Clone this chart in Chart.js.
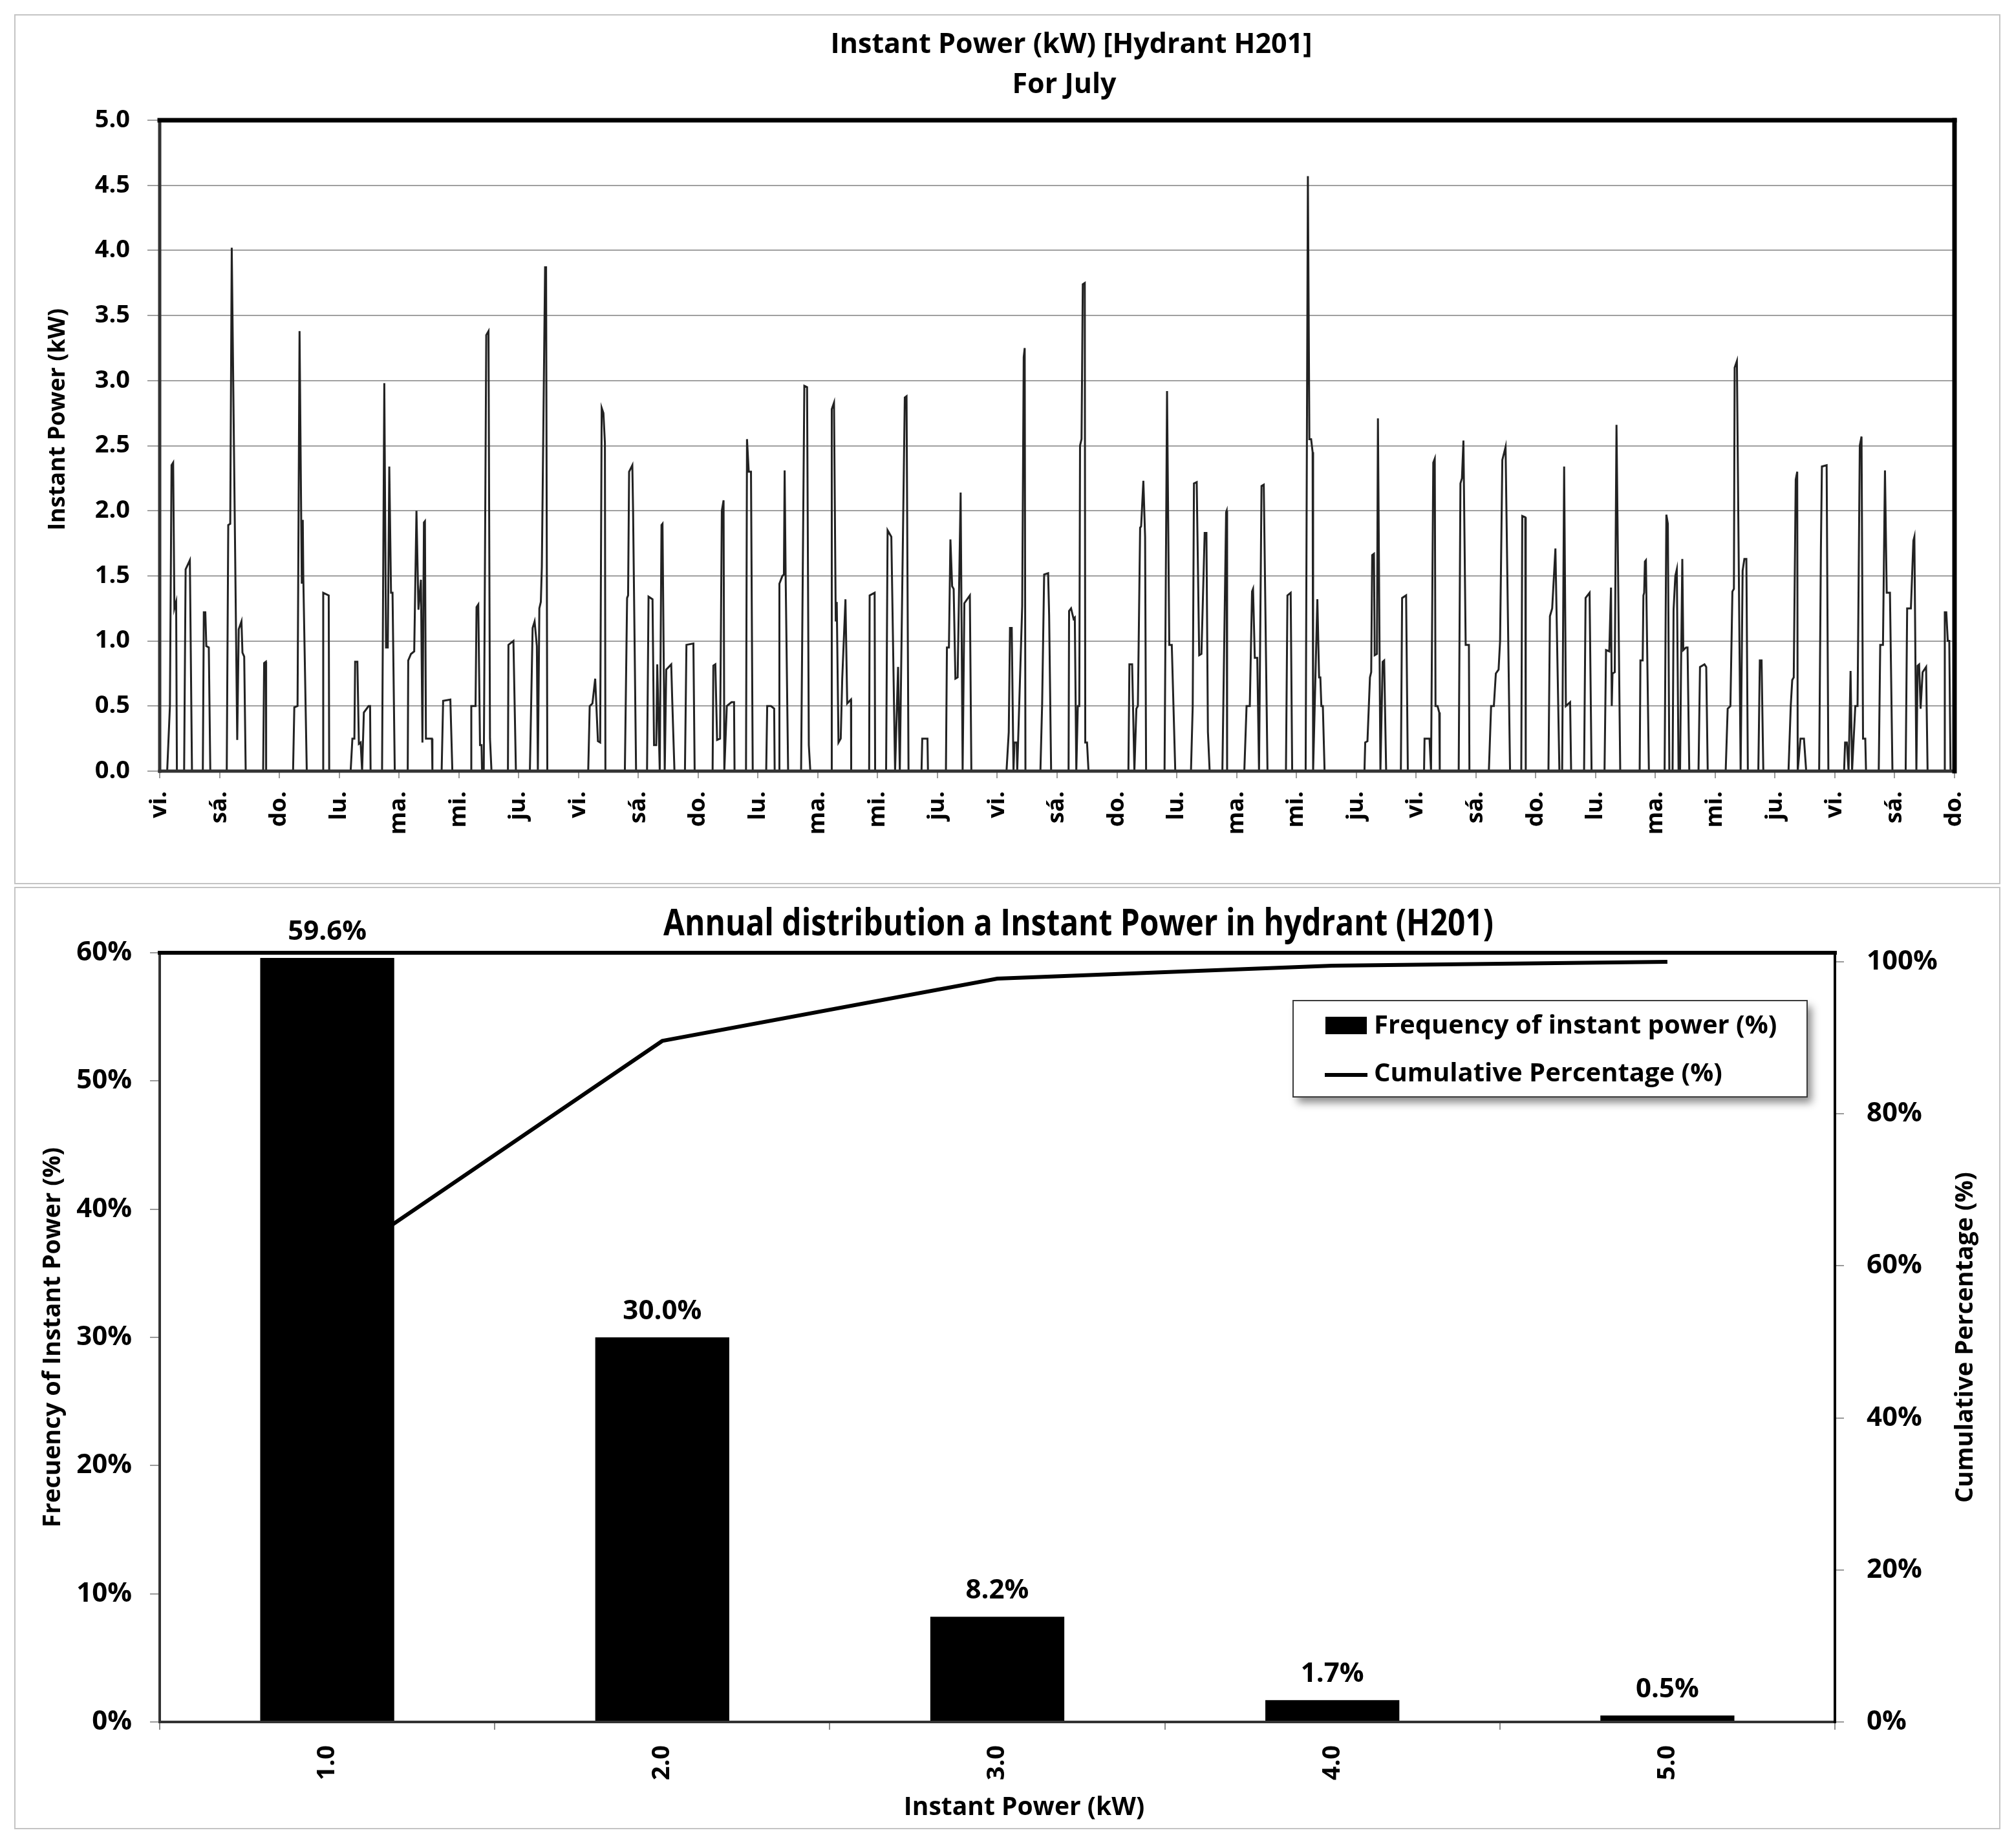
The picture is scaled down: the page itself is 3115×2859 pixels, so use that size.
<!DOCTYPE html>
<html>
<head>
<meta charset="utf-8">
<title>Instant Power H201</title>
<script src="https://cdn.jsdelivr.net/npm/chart.js@4.4.0/dist/chart.umd.min.js"></script>
<style>
  html, body { margin: 0; padding: 0; background: #fff; }
  body { width: 3115px; height: 2859px; position: relative; overflow: hidden; }
  .panel { position: absolute; left: 22px; width: 3072px; border: 2px solid #c4c4c4; box-sizing: border-box; background: #fff; }
  #topPanel { top: 22px; height: 1346px; }
  #bottomPanel { top: 1372px; height: 1458px; }
  canvas { display: block; }
</style>
</head>
<body>
<div class="panel" id="topPanel"><canvas id="powerChart"></canvas></div>
<div class="panel" id="bottomPanel"><canvas id="distChart"></canvas></div>
<script>
// --- July series: hour of month (0 = Fri 1st 00:00) and instant power in kW
const hours = [
  0, 3.0, 4.1, 4.75, 5.4, 5.9, 6.6, 6.9,
  9.8, 10.4, 12.1, 12.95,
  17.3, 17.7, 18.3, 18.7, 19.7, 20.3,
  26.9, 27.5, 28.3, 28.9, 31.1, 31.7, 32.8, 33.2, 33.9, 34.5,
  41.5, 41.9, 42.6, 42.7,
  53.5, 54.0, 55.3, 56.1, 57.0, 57.4, 57.6, 59.0,
  65.5, 65.6, 67.8, 68.0,
  76.6, 77.3, 78.1, 78.4, 79.3, 79.9, 80.6, 81.2, 81.9, 83.8, 84.4, 84.6,
  89.2, 90.1, 90.8, 91.5, 92.1, 92.8, 93.4, 94.3,
  99.5, 99.7, 100.8, 102.1, 103.0, 103.8, 104.8, 105.4, 106.0, 106.4, 106.8, 109.2, 109.4,
  113.1, 113.7, 116.6, 117.4,
  124.8, 125.0, 126.7, 127.1, 127.8, 128.5, 129.1, 129.3, 130.0, 131.0, 131.9, 132.5, 133.1,
  139.7, 139.9, 141.9, 142.9,
  148.5, 149.6, 150.4, 151.3, 151.7, 152.3, 152.9, 153.3, 154.6, 155.0, 155.5,
  171.9, 172.5, 173.6, 174.7, 175.8, 176.7, 177.3, 178.0, 178.6, 178.8,
  186.6, 187.5, 187.9, 188.3, 189.6, 189.9, 191.1,
  195.5, 196.1, 197.7, 198.3, 199.2, 199.6, 200.6, 201.3, 201.7, 202.6, 203.2, 205.2, 205.6, 206.5,
  210.7, 211.3, 214.1, 214.6,
  221.8, 222.1, 222.9, 223.6, 224.8, 225.5, 226.2, 226.5, 227.5, 229.4, 230.4, 230.6,
  235.2, 235.6, 236.3, 237.2, 237.9,
  243.3, 243.7, 245.2, 246.5, 246.7,
  248.5, 248.6, 249.8, 250.4, 250.7, 251.1, 252.1,
  257.3, 258.6, 259.7, 260.4, 261.0,
  269.5, 269.6, 270.5, 271.2, 271.6, 272.3, 273.2, 273.8, 275.1, 275.8, 277.3, 277.4,
  284.6, 284.8, 286.8, 287.0,
  291.4, 292.0, 293.5, 295.0, 296.2, 296.9, 298.9, 299.6, 300.4,
  305.6, 305.9, 308.0, 308.2,
  315.4, 315.8, 316.6, 317.2, 317.9, 318.5, 319.2, 320.1, 321.3, 322.1, 322.8, 325.0, 325.6,
  339.7, 340.6, 341.1, 341.8, 342.5, 342.9, 343.8, 344.0, 346.0, 346.6, 347.0, 347.3,
  353.3, 354.0, 354.8, 356.4, 356.8, 357.6,
  364.6, 364.8, 365.6, 366.6, 367.1, 367.7, 368.3, 368.9, 369.2, 369.8, 370.3, 371.1, 371.3, 372.0, 372.6,
  388.6, 389.0, 390.1, 391.0, 391.8, 392.4, 393.3, 393.7, 394.6, 395.3, 395.7,
  403.1, 404.1, 405.0, 406.0, 407.4,
  413.7, 414.4, 414.9, 416.0, 417.0, 417.9, 419.2, 419.9, 420.5, 421.2,
  426.3, 427.8, 428.0, 428.2,
  435.1, 436.0, 437.3, 438.2, 438.6, 439.3, 440.3, 441.0, 442.0, 442.9, 444.4,
  451.8, 452.4, 453.7, 454.3,
  459.7, 460.6, 461.2, 461.9, 462.5, 462.7, 464.4, 465.1, 465.6, 466.0, 466.6, 467.3,
  483.3, 483.6, 484.5, 485.5, 486.0, 486.4, 487.1, 487.4, 488.3, 488.7, 489.7, 490.6, 491.2, 492.0,
  497.9, 498.4, 500.0, 500.7,
  507.2, 507.4, 509.4, 510.0, 510.9, 511.5, 511.8, 512.6, 513.3, 513.5,
  521.1, 521.8, 522.4, 523.0, 523.9, 525.2, 525.4,
  533.2, 534.1, 535.2, 536.0, 537.1, 537.7, 538.6, 539.9, 541.7,
  546.2, 546.6, 547.8, 548.0,
  557.1, 557.7, 558.6, 559.9, 561.5, 562.6, 563.4, 564.1, 565.8, 566.2,
  571.4, 572.0, 573.6, 574.4,
  579.6, 580.2, 581.5, 582.2, 582.5, 582.8, 583.7, 584.4, 585.9,
  593.7, 594.0, 594.9, 595.2, 595.5, 595.8, 596.2, 597.4,
  603.7, 604.4, 605.0, 605.6,
  606.9, 607.3, 608.0, 608.6, 609.3, 609.9, 610.3, 610.8, 611.2, 612.3, 612.9, 613.6,
  617.3, 617.9, 619.7, 620.4, 621.0,
  628.2, 629.0, 630.1, 630.9, 631.5, 631.8, 632.7, 634.2, 635.0, 635.7, 636.5, 637.1,
  641.3, 641.9, 642.6, 643.3,
  653.4, 654.3, 654.9, 655.5, 656.3, 656.9, 657.1, 658.2, 659.6, 660.5,
  665.7, 666.4, 666.8, 668.7, 669.4,
  675.7, 676.1, 676.8, 677.5, 678.3, 678.9, 680.2, 681.1, 682.0, 682.7, 683.3, 684.2, 684.5,
  689.6, 690.2, 691.3, 692.1, 692.8, 694.1, 695.1,
  700.4, 701.0, 702.5, 703.5, 703.9, 704.7, 705.2, 705.8, 706.4, 707.2, 708.6, 709.2,
  715.9, 716.1, 716.7, 717.3, 717.9, 718.4, 720
];
const powerKW = [
  0, 0, 0.5, 2.35, 2.37, 1.25, 1.3, 0,
  0, 1.55, 1.62, 0,
  0, 1.22, 1.22, 0.96, 0.95, 0,
  0, 1.89, 1.9, 4.02, 0.24, 1.09, 1.15, 0.91, 0.88, 0,
  0, 0.83, 0.84, 0,
  0, 0.49, 0.5, 3.38, 1.44, 1.93, 1.5, 0,
  0, 1.37, 1.35, 0,
  0, 0.25, 0.25, 0.84, 0.84, 0.21, 0.22, 0, 0.45, 0.5, 0.5, 0,
  0, 2.98, 0.95, 0.95, 2.34, 1.37, 1.37, 0,
  0, 0.85, 0.9, 0.92, 2.0, 1.24, 1.47, 0.22, 1.91, 1.92, 0.25, 0.25, 0,
  0, 0.54, 0.55, 0,
  0, 0.5, 0.5, 1.26, 1.28, 0.2, 0.2, 0, 0, 3.35, 3.38, 0.25, 0,
  0, 0.97, 1.0, 0,
  0, 1.1, 1.15, 0.96, 0, 1.25, 1.3, 1.57, 3.87, 3.87, 0,
  0, 0.5, 0.52, 0.71, 0.23, 0.22, 2.79, 2.75, 2.52, 0,
  0, 1.33, 1.35, 2.3, 2.35, 2.0, 0,
  0, 1.34, 1.32, 0.2, 0.2, 0.82, 0, 1.89, 1.9, 0, 0.78, 0.82, 0.55, 0,
  0, 0.97, 0.98, 0,
  0, 0.81, 0.82, 0.24, 0.25, 2.0, 2.08, 0, 0.5, 0.53, 0.53, 0,
  0, 2.55, 2.3, 2.3, 0,
  0, 0.5, 0.5, 0.48, 0,
  0, 1.44, 1.5, 1.51, 2.31, 1.5, 0,
  0, 2.96, 2.95, 0.2, 0,
  0, 2.78, 2.83, 1.15, 1.3, 0.22, 0.25, 0.71, 1.32, 0.52, 0.55, 0,
  0, 1.35, 1.37, 0,
  0, 1.85, 1.8, 0, 0.8, 0, 2.87, 2.88, 0,
  0, 0.25, 0.25, 0,
  0, 0.95, 0.95, 1.78, 1.42, 1.4, 0.71, 0.72, 2.14, 0, 1.29, 1.35, 0,
  0, 0.3, 1.1, 1.1, 0, 0.22, 0.22, 0, 1.27, 3.18, 3.25, 0,
  0, 0.52, 1.51, 1.52, 1.2, 0,
  0, 1.23, 1.25, 1.17, 1.18, 0, 0.5, 0.5, 2.5, 2.55, 3.74, 3.75, 0.22, 0.22, 0,
  0, 0.82, 0.82, 0, 0.48, 0.5, 1.87, 1.88, 2.23, 1.8, 0,
  0, 2.92, 0.97, 0.97, 0,
  0, 0.5, 2.21, 2.22, 0.89, 0.9, 1.83, 1.83, 0.3, 0,
  0, 1.99, 2.0, 0,
  0, 0.5, 0.5, 1.38, 1.4, 0.87, 0.87, 0, 2.19, 2.2, 0,
  0, 1.35, 1.37, 0,
  0, 4.57, 2.55, 2.55, 2.45, 0, 1.32, 0.72, 0.72, 0.5, 0.5, 0,
  0, 0.22, 0.23, 0.72, 0.76, 1.66, 1.67, 0.89, 0.9, 2.71, 0, 0.84, 0.85, 0,
  0, 1.33, 1.35, 0,
  0, 0.25, 0.25, 0, 2.37, 2.4, 0.5, 0.5, 0.45, 0,
  0, 2.21, 2.25, 2.54, 0.97, 0.97, 0,
  0, 0.5, 0.5, 0.75, 0.78, 1.0, 2.39, 2.49, 0,
  0, 1.96, 1.95, 0,
  0, 1.19, 1.25, 1.71, 0, 0, 2.34, 0.5, 0.53, 0,
  0, 1.33, 1.37, 0,
  0, 0.93, 0.92, 1.41, 0.5, 0.75, 0.76, 2.66, 0,
  0, 0.85, 0.85, 1.35, 1.37, 1.61, 1.62, 0,
  0, 1.97, 1.9, 0,
  0, 1.24, 1.5, 1.55, 0, 0, 0.8, 1.63, 0.93, 0.95, 0.95, 0,
  0, 0.8, 0.82, 0.8, 0,
  0, 0.48, 0.5, 1.38, 1.4, 3.1, 3.15, 0, 1.54, 1.63, 1.63, 0,
  0, 0.85, 0.85, 0,
  0, 0.5, 0.7, 0.72, 2.24, 2.3, 0, 0.25, 0.25, 0,
  0, 1.7, 2.34, 2.35, 0,
  0, 0.22, 0.22, 0, 0.77, 0, 0.5, 0.5, 2.5, 2.57, 0.25, 0.25, 0,
  0, 0.97, 0.97, 2.31, 1.37, 1.37, 0,
  0, 1.25, 1.25, 1.77, 1.8, 0, 0.81, 0.82, 0.48, 0.76, 0.8, 0,
  0, 1.22, 1.22, 1.0, 1.0, 0, 0
];
const dayLabels = ['vi.', 'sá.', 'do.', 'lu.', 'ma.', 'mi.', 'ju.',
  'vi.', 'sá.', 'do.', 'lu.', 'ma.', 'mi.', 'ju.',
  'vi.', 'sá.', 'do.', 'lu.', 'ma.', 'mi.', 'ju.',
  'vi.', 'sá.', 'do.', 'lu.', 'ma.', 'mi.', 'ju.',
  'vi.', 'sá.', 'do.'];

// --- annual distribution
const powerBins = ['1.0', '2.0', '3.0', '4.0', '5.0'];
const freqPct = [59.6, 30.0, 8.2, 1.7, 0.5];
const cumPct = [59.6, 89.6, 97.8, 99.5, 100.0];
const cumTicks = [0, 20, 40, 60, 80, 100];

const FONT = "'Open Sans', 'DejaVu Sans', sans-serif";
Chart.defaults.font.family = FONT;
Chart.defaults.font.weight = 'bold';
Chart.defaults.color = '#000';

// plot frame (thick top/right like the original)
const framePlugin = {
  id: 'frame',
  afterDatasetsDraw(chart, args, o) {
    const { ctx, chartArea: a } = chart;
    const side = (x1, y1, x2, y2, w, c) => {
      ctx.lineWidth = w; ctx.strokeStyle = c;
      ctx.beginPath(); ctx.moveTo(x1, y1); ctx.lineTo(x2, y2); ctx.stroke();
    };
    ctx.save();
    ctx.lineCap = 'square';
    side(a.left, a.bottom, a.right, a.bottom, o.bottom, '#333');
    side(a.left, a.top, a.left, a.bottom, o.left, '#333');
    side(a.right, a.top, a.right, a.bottom, o.right, '#000');
    side(a.left, a.top, a.right, a.top, o.top, '#000');
    ctx.restore();
  }
};

// free text: chart titles and rotated axis titles
const textPlugin = {
  id: 'texts',
  afterDraw(chart, args, o) {
    const ctx = chart.ctx;
    ctx.save();
    ctx.fillStyle = '#000';
    ctx.textAlign = 'center';
    (o.items || []).forEach(t => {
      ctx.save();
      ctx.font = 'bold ' + t.size + 'px ' + FONT;
      ctx.textBaseline = t.baseline || 'middle';
      ctx.translate(t.x, t.y);
      if (t.rotate) ctx.rotate(-Math.PI / 2);
      if (t.squeeze) ctx.scale(t.squeeze, 1);
      ctx.fillText(t.text, 0, 0);
      ctx.restore();
    });
    ctx.restore();
  }
};

const barLabelPlugin = {
  id: 'barLabels',
  afterDatasetsDraw(chart) {
    const ctx = chart.ctx;
    const meta = chart.getDatasetMeta(0);
    ctx.save();
    ctx.font = 'bold 42px ' + FONT;
    ctx.fillStyle = '#000';
    ctx.textAlign = 'center';
    ctx.textBaseline = 'middle';
    meta.data.forEach((bar, i) => ctx.fillText(freqPct[i].toFixed(1) + '%', bar.x, bar.y - 40));
    ctx.restore();
  }
};

const boxLegendPlugin = {
  id: 'boxLegend',
  afterDraw(chart) {
    const { ctx, chartArea: a } = chart;
    const ds = chart.data.datasets;
    const x = a.right - 838, y = a.top + 74, w = 795, h = 149;
    ctx.save();
    ctx.shadowColor = 'rgba(0,0,0,0.45)';
    ctx.shadowBlur = 12; ctx.shadowOffsetX = 7; ctx.shadowOffsetY = 9;
    ctx.fillStyle = '#fff';
    ctx.fillRect(x, y, w, h);
    ctx.shadowColor = 'transparent';
    ctx.strokeStyle = '#3a3a3a'; ctx.lineWidth = 2;
    ctx.strokeRect(x, y, w, h);
    ctx.fillStyle = '#000';
    ctx.fillRect(x + 50, y + 25, 64, 27);
    ctx.strokeStyle = '#000'; ctx.lineWidth = 6;
    ctx.beginPath(); ctx.moveTo(x + 49, y + 115); ctx.lineTo(x + 115, y + 115); ctx.stroke();
    ctx.font = 'bold 40px ' + FONT;
    ctx.textAlign = 'left'; ctx.textBaseline = 'middle';
    ctx.fillText(ds[0].label, x + 125, y + 40);
    ctx.fillText(ds[1].label, x + 125, y + 114);
    ctx.restore();
  }
};

// ---------- top chart: instant power for July
new Chart(document.getElementById('powerChart'), {
  type: 'line',
  data: {
    datasets: [{
      label: 'Instant Power (kW)',
      data: hours.map((h, i) => ({ x: h, y: powerKW[i] })),
      borderColor: '#222',
      borderWidth: 3,
      pointRadius: 0,
      tension: 0,
      fill: false
    }]
  },
  options: {
    responsive: true,
    maintainAspectRatio: false,
    animation: false,
    layout: { padding: { top: 162, right: 69, left: 0, bottom: 0 } },
    plugins: {
      legend: { display: false },
      tooltip: { enabled: false },
      frame: { top: 7, right: 7, left: 5, bottom: 5 },
      texts: {
        items: [
          { text: 'Instant Power (kW) [Hydrant H201]', x: 1633, y: 46, size: 43 },
          { text: 'For July', x: 1622, y: 108, size: 43 },
          { text: 'Instant Power (kW)', x: 66, y: 625, size: 36, rotate: true }
        ]
      }
    },
    scales: {
      x: {
        type: 'linear',
        min: 0,
        max: 720,
        afterFit: s => { s.height = 173; },
        ticks: {
          stepSize: 24,
          autoSkip: false,
          maxRotation: 90,
          minRotation: 90,
          padding: 20,
          font: { size: 36, weight: 'bold' },
          callback: v => dayLabels[Math.round(v / 24)]
        },
        grid: { drawOnChartArea: false, tickLength: 11, color: '#9a9a9a', lineWidth: 2 },
        border: { display: false }
      },
      y: {
        min: 0,
        max: 5,
        afterFit: s => { s.width = 223; },
        ticks: {
          stepSize: 0.5,
          padding: 27,
          font: { size: 38, weight: 'bold' },
          callback: v => v.toFixed(1)
        },
        grid: { color: '#a0a0a0', lineWidth: 2, tickLength: 19 },
        border: { display: false }
      }
    }
  },
  plugins: [framePlugin, textPlugin]
});

// ---------- bottom chart: annual distribution
new Chart(document.getElementById('distChart'), {
  type: 'bar',
  data: {
    labels: powerBins,
    datasets: [
      {
        type: 'bar',
        label: 'Frequency of instant power (%)',
        data: freqPct,
        backgroundColor: '#000',
        barPercentage: 0.4,
        categoryPercentage: 1.0,
        yAxisID: 'yFreq',
        order: 1
      },
      {
        type: 'line',
        label: 'Cumulative Percentage (%)',
        data: cumPct,
        borderColor: '#000',
        borderWidth: 6,
        pointRadius: 0,
        tension: 0,
        fill: false,
        yAxisID: 'yCum',
        order: 2
      }
    ]
  },
  options: {
    responsive: true,
    maintainAspectRatio: false,
    animation: false,
    layout: { padding: { top: 100, right: 0, left: 0, bottom: 0 } },
    plugins: {
      legend: { display: false },
      tooltip: { enabled: false },
      frame: { top: 6, right: 4, left: 4, bottom: 4 },
      texts: {
        items: [
          { text: 'Annual distribution a Instant Power in hydrant (H201)', x: 1644, y: 73, size: 57, squeeze: 0.84, baseline: 'alphabetic' },
          { text: 'Cumulative Percentage (%)', x: 3016, y: 695, size: 38, rotate: true },
          { text: 'Instant Power (kW)', x: 1560, y: 1423, size: 39 }
        ]
      }
    },
    scales: {
      x: {
        type: 'category',
        offset: true,
        afterFit: s => { s.height = 164; },
        ticks: {
          autoSkip: false,
          maxRotation: 90,
          minRotation: 90,
          padding: 24,
          font: { size: 38, weight: 'bold' }
        },
        grid: { offset: true, drawOnChartArea: false, tickLength: 12, color: '#8a8a8a', lineWidth: 2 },
        border: { display: false }
      },
      yFreq: {
        position: 'left',
        min: 0,
        max: 60,
        afterFit: s => { s.width = 223; },
        ticks: {
          stepSize: 10,
          padding: 28,
          font: { size: 42, weight: 'bold' },
          callback: v => v + '%'
        },
        grid: { drawOnChartArea: false, tickLength: 15, color: '#9a9a9a', lineWidth: 2 },
        border: { display: false },
        title: {
          display: true,
          text: 'Frecuency of Instant Power (%)',
          font: { size: 38, weight: 'bold' },
          padding: { top: 35, bottom: 0 }
        }
      },
      yCum: {
        position: 'right',
        min: 0,
        max: 101.2,
        afterFit: s => { s.width = 254; },
        afterBuildTicks: s => { s.ticks = cumTicks.map(v => ({ value: v })); },
        ticks: {
          padding: 35,
          font: { size: 42, weight: 'bold' },
          callback: v => v + '%'
        },
        grid: { drawOnChartArea: false, tickLength: 14, color: '#9a9a9a', lineWidth: 2 },
        border: { display: false }
      }
    }
  },
  plugins: [framePlugin, textPlugin, barLabelPlugin, boxLegendPlugin]
});
</script>
</body>
</html>
